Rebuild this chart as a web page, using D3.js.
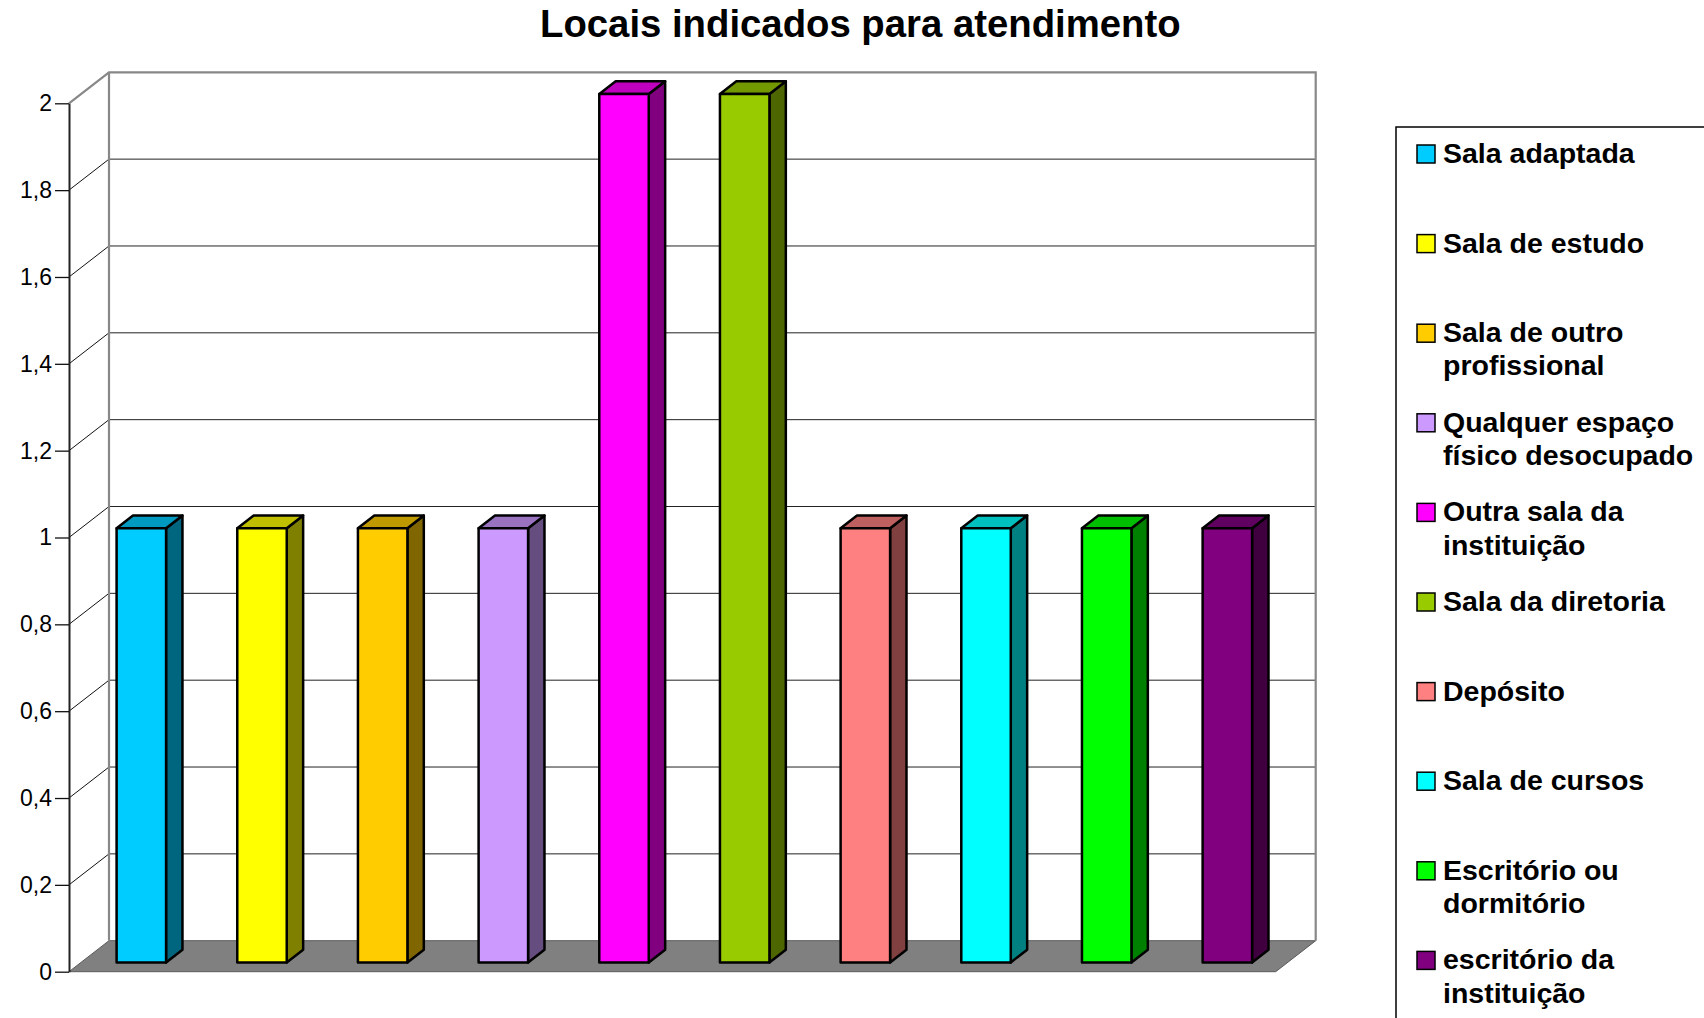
<!DOCTYPE html>
<html>
<head>
<meta charset="utf-8">
<script src="https://cdn.jsdelivr.net/npm/d3@7"></script>
<style>
  html, body { margin: 0; padding: 0; background: #fff; overflow: hidden; }
  svg { display: block; font-family: "Liberation Sans", Arial, sans-serif; }
</style>
</head>
<body>
<svg id="chart" width="1704" height="1018"></svg>
<script>
// ---- data ----
const categories = [
  "Sala adaptada", "Sala de estudo", "Sala de outro profissional",
  "Qualquer espaço físico desocupado", "Outra sala da instituição",
  "Sala da diretoria", "Depósito", "Sala de cursos",
  "Escritório ou dormitório", "escritório da instituição"
];
const legendLines = [
  ["Sala adaptada"], ["Sala de estudo"], ["Sala de outro", "profissional"],
  ["Qualquer espaço", "físico desocupado"], ["Outra sala da", "instituição"],
  ["Sala da diretoria"], ["Depósito"], ["Sala de cursos"],
  ["Escritório ou", "dormitório"], ["escritório da", "instituição"]
];
const values = [1, 1, 1, 1, 2, 2, 1, 1, 1, 1];
const colors = ["#00CCFF", "#FFFF00", "#FFCC00", "#CC99FF", "#FF00FF",
                "#99CC00", "#FF8080", "#00FFFF", "#00FF00", "#800080"];
const yTicks = [0, 0.2, 0.4, 0.6, 0.8, 1, 1.2, 1.4, 1.6, 1.8, 2];
const title = "Locais indicados para atendimento";

// ---- layout ----
const svg = d3.select("#chart");
const FRONT_L = 69, FRONT_R = 1275.7, Y0 = 971.7, Y2 = 103.3;
const DX = 40, DY = -31;          // full depth offset of the floor/walls
const BAR_F0 = 0.3, BAR_F1 = 0.71; // bar depth range (fraction of full depth)

const y = d3.scaleLinear().domain([0, 2]).range([Y0, Y2]);
const x = d3.scaleBand().domain(categories).range([FRONT_L, FRONT_R])
  .paddingInner(0.59).paddingOuter(0.295);
const depthX = d3.scaleLinear().domain([0, 1]).range([0, DX]);
const depthY = d3.scaleLinear().domain([0, 1]).range([0, DY]);

const locale = d3.formatLocale({decimal: ",", thousands: ".", grouping: [3], currency: ["", ""]});
const fmt = v => locale.format("~g")(+v.toFixed(1));

function shade(c, k) {
  const r = d3.rgb(c);
  return d3.rgb(r.r * k, r.g * k, r.b * k).formatHex();
}

// walls
const bx = depthX(1), by = depthY(1);
svg.append("polygon")
  .attr("points", [[FRONT_L + bx, y(2) + by], [FRONT_R + bx, y(2) + by], [FRONT_R + bx, y(0) + by], [FRONT_L + bx, y(0) + by]].join(" "))
  .attr("fill", "#fff");

// floor
svg.append("polygon")
  .attr("points", [[FRONT_L, y(0)], [FRONT_R, y(0)], [FRONT_R + bx, y(0) + by], [FRONT_L + bx, y(0) + by]].join(" "))
  .attr("fill", "#808080").attr("stroke", "#5a5a5a").attr("stroke-width", 1);

// gridlines
const inner = yTicks.filter(t => t > 0 && t < 2);
svg.append("g").selectAll("line.gb").data(inner).join("line")
  .attr("x1", FRONT_L + bx).attr("x2", FRONT_R + bx)
  .attr("y1", d => y(d) + by).attr("y2", d => y(d) + by)
  .attr("stroke", "#222").attr("stroke-width", 1);
svg.append("g").selectAll("line.gs").data(inner).join("line")
  .attr("x1", FRONT_L).attr("x2", FRONT_L + bx)
  .attr("y1", d => y(d)).attr("y2", d => y(d) + by)
  .attr("stroke", "#111").attr("stroke-width", 1);

// wall borders (gray)
const wall = svg.append("g").attr("stroke", "#888").attr("stroke-width", 2.2).attr("fill", "none");
wall.append("polyline").attr("points", [[FRONT_L, y(2)], [FRONT_L + bx, y(2) + by], [FRONT_R + bx, y(2) + by], [FRONT_R + bx, y(0) + by]].join(" "));
wall.append("line").attr("x1", FRONT_L + bx).attr("x2", FRONT_L + bx).attr("y1", y(2) + by).attr("y2", y(0) + by);

// y axis
const axis = d3.axisLeft(y).tickValues(yTicks).tickFormat(fmt).tickSize(14).tickSizeOuter(0).tickPadding(3);
const ag = svg.append("g").attr("transform", `translate(${FRONT_L},0)`).call(axis);
ag.select(".domain").attr("stroke", "#222").attr("stroke-width", 2);
ag.selectAll(".tick line").attr("stroke", "#111").attr("stroke-width", 1.3);
ag.selectAll(".tick text").attr("font-size", 23).attr("fill", "#000")
  .attr("font-family", "'Liberation Sans', Arial, sans-serif");

// bars
const ox0 = depthX(BAR_F0), oy0 = depthY(BAR_F0);
const dxb = depthX(BAR_F1) - depthX(BAR_F0), dyb = depthY(BAR_F1) - depthY(BAR_F0);
const bw = x.bandwidth();
const bars = svg.append("g").selectAll("g.bar").data(categories).join("g")
  .attr("stroke", "#000").attr("stroke-width", 2.5).attr("stroke-linejoin", "round");
bars.each(function (c, i) {
  const g = d3.select(this);
  const x0 = x(c) + ox0, x1 = x0 + bw;
  const yt = y(values[i]) + oy0, yb = y(0) + oy0;
  g.append("polygon").attr("points", [[x1, yt], [x1 + dxb, yt + dyb], [x1 + dxb, yb + dyb], [x1, yb]].join(" "))
    .attr("fill", shade(colors[i], 0.5));
  g.append("polygon").attr("points", [[x0, yt], [x0 + dxb, yt + dyb], [x1 + dxb, yt + dyb], [x1, yt]].join(" "))
    .attr("fill", shade(colors[i], 0.75));
  g.append("rect").attr("x", x0).attr("y", yt).attr("width", bw).attr("height", yb - yt)
    .attr("fill", colors[i]);
});

// title
svg.append("text").attr("x", 540).attr("y", 37).attr("font-size", 38.3).attr("font-weight", "bold")
  .attr("fill", "#000").text(title);

// legend
svg.append("rect").attr("x", 1396).attr("y", 127).attr("width", 400).attr("height", 1000)
  .attr("fill", "#fff").attr("stroke", "#000").attr("stroke-width", 1.5);
const L0 = 163, LSTEP = 89.6, LLINE = 33.3;
const li = svg.append("g").selectAll("g.li").data(categories).join("g")
  .attr("transform", (d, i) => `translate(0,${L0 + i * LSTEP})`);
li.append("rect").attr("x", 1417).attr("y", -18).attr("width", 18).attr("height", 18)
  .attr("fill", (d, i) => colors[i]).attr("stroke", "#000").attr("stroke-width", 1.5);
li.append("text").attr("x", 1443).attr("font-size", 28.5).attr("font-weight", "bold").attr("fill", "#000")
  .each(function (d, i) {
    d3.select(this).selectAll("tspan").data(legendLines[i]).join("tspan")
      .attr("x", 1443).attr("dy", (t, j) => j === 0 ? 0 : LLINE).text(t => t);
  });
</script>
</body>
</html>
